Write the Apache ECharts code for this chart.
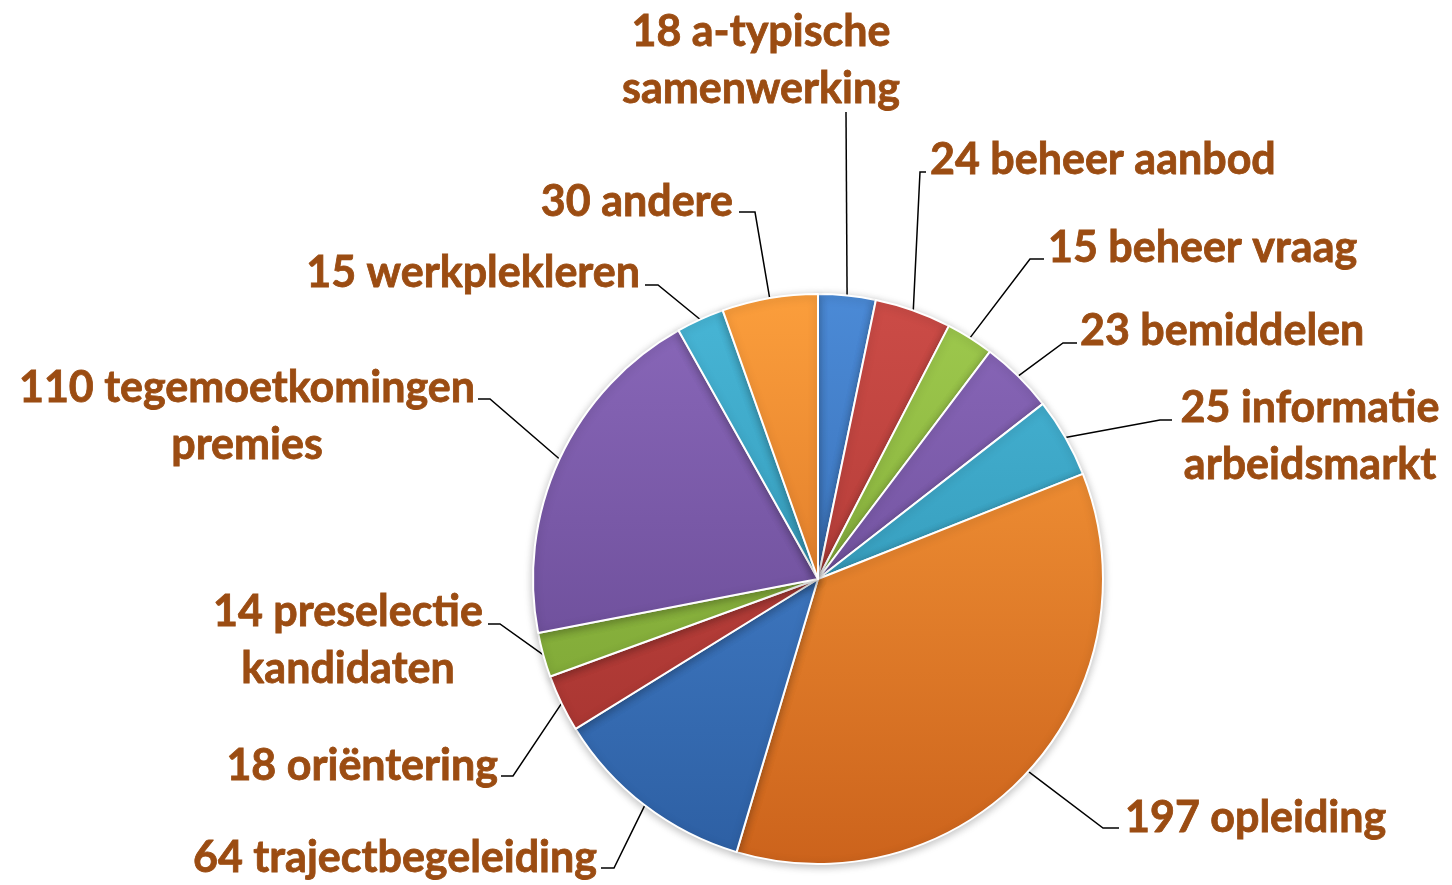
<!DOCTYPE html>
<html>
<head>
<meta charset="utf-8">
<style>
  html, body { margin: 0; padding: 0; background: #ffffff; }
  #chart { width: 1452px; height: 885px; }
</style>
<script src="https://cdn.jsdelivr.net/npm/echarts@6/dist/echarts.min.js"></script>
</head>
<body>
<div id="chart"></div>
<script>
// ---- data ----
const categories = [
  'a-typische\nsamenwerking', 'beheer aanbod', 'beheer vraag', 'bemiddelen',
  'informatie\narbeidsmarkt', 'opleiding', 'trajectbegeleiding', 'oriëntering',
  'preselectie\nkandidaten', 'tegemoetkomingen\npremies', 'werkplekleren', 'andere'
];
const values = [18, 24, 15, 23, 25, 197, 64, 18, 14, 110, 15, 30];

// ---- styling / layout (not data) ----
const palette = [
  ['#4b8ad6', '#2d5fa3'], // blue
  ['#cc4c47', '#a0302c'], // red
  ['#9fca4e', '#749c2e'], // green
  ['#8a68ba', '#5f428a'], // purple
  ['#48b6d6', '#2788a8'], // teal
  ['#fb9e3c', '#cc631c']  // orange
];
const CX = 818, CY = 579, R = 285;
const FS = 43;
// label anchor: [x, y, align], leader: [elbowX, elbowY, endX, endY]
const labelPlace = [
  [761, 61, 'center', 846, 112, 846, 112],
  [930, 160, 'left', 920, 172, 926, 172],
  [1048, 248, 'left', 1030, 259, 1044, 259],
  [1080, 331, 'left', 1063, 343, 1077, 343],
  [1310, 437, 'center', 1160, 420, 1172, 420],
  [1125, 818, 'left', 1103, 828, 1119, 828],
  [597, 858, 'right', 614, 868, 601, 868],
  [498, 766, 'right', 513, 776, 501, 776],
  [348, 641, 'center', 500, 624, 488, 624],
  [247, 417, 'center', 490, 399, 478, 399],
  [640, 273, 'right', 658, 285, 645, 285],
  [733, 202, 'right', 755, 212, 739, 212]
];

const chart = echarts.init(document.getElementById('chart'), null, { renderer: 'canvas' });

const seriesData = values.map((v, i) => {
  const c = palette[i % palette.length];
  return {
    name: categories[i],
    value: v,
    itemStyle: {
      color: new echarts.graphic.LinearGradient(0, CY - R, 0, CY + R, [
        { offset: 0, color: c[0] },
        { offset: 1, color: c[1] }
      ], true)
    }
  };
});

chart.setOption({
  animation: false,
  series: [{
    type: 'pie',
    center: [CX, CY],
    radius: R,
    startAngle: 90,
    clockwise: true,
    avoidLabelOverlap: false,
    itemStyle: {
      borderColor: '#ffffff',
      borderWidth: 2,
      shadowBlur: 8,
      shadowColor: 'rgba(0,0,0,0.25)',
      shadowOffsetY: 2
    },
    label: {
      show: true,
      position: 'outside',
      formatter: '{c} {b}',
      color: '#9b4c12',
      fontFamily: 'Lato',
      fontWeight: 'bold',
      fontSize: FS,
      lineHeight: 57,
      textBorderColor: '#9b4c12',
      textBorderWidth: 0.8
    },
    labelLine: {
      show: true,
      length: 20,
      length2: 10,
      lineStyle: { color: '#000000', width: 1.5 }
    },
    labelLayout: function (params) {
      const p = labelPlace[params.dataIndex];
      let start = params.labelLinePoints && params.labelLinePoints[0];
      if (!start) { start = [CX, CY]; }
      return {
        x: p[0],
        y: p[1],
        align: p[2],
        verticalAlign: 'middle',
        fontSize: FS,
        labelLinePoints: [[start[0], start[1]], [p[3], p[4]], [p[5], p[6]]]
      };
    },
    data: seriesData
  }]
});
</script>
</body>
</html>
